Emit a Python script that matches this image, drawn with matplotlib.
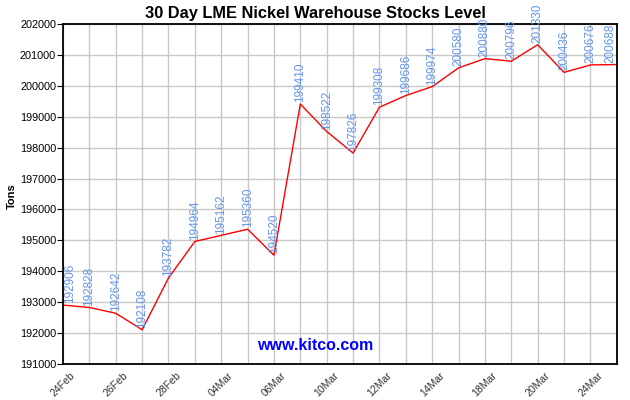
import matplotlib
matplotlib.use("Agg")
import matplotlib.pyplot as plt

plt.rcParams['font.family'] = ['Liberation Sans', 'DejaVu Sans']

dates = ['24Feb', '25Feb', '26Feb', '27Feb', '28Feb', '03Mar', '04Mar', '05Mar',
         '06Mar', '07Mar', '10Mar', '11Mar', '12Mar', '13Mar', '14Mar', '17Mar',
         '18Mar', '19Mar', '20Mar', '21Mar', '24Mar', '25Mar']
stocks = [192906, 192828, 192642, 192108, 193782, 194964, 195162, 195360,
          194520, 199410, 198522, 197826, 199308, 199686, 199974, 200580,
          200880, 200796, 201330, 200436, 200676, 200688]

fig = plt.figure(figsize=(6.3, 4.0), dpi=100)
ax = fig.add_axes([0.1, 0.09, 0.879, 0.85])

x = list(range(len(stocks)))
ax.plot(x, stocks, color='#ff0000', linewidth=1)

# value labels above each point
for i, v in enumerate(stocks):
    xi = i
    if i == 0:
        xi = i + 0.25
    elif i == len(stocks) - 1:
        xi = i - 0.25
    ax.text(xi, v + 60, str(v), rotation=90, ha='center', va='bottom',
            color='#6495ed', fontsize=8.5, clip_on=False)

ax.set_xlim(0, len(stocks) - 1)
ax.set_ylim(191000, 202000)
ax.set_yticks(range(191000, 202001, 1000))
ax.set_xticks(x)
ax.set_xticklabels([d if i % 2 == 0 else '' for i, d in enumerate(dates)],
                   rotation=45, ha='center', va='top', fontsize=7.5, color='#333333')
ax.tick_params(axis='x', length=0, pad=4.5)
ax.tick_params(axis='y', length=4, direction='out', labelsize=7.8, pad=1)
ax.grid(True, color='#c8c8c8', linewidth=1)
ax.set_axisbelow(True)
for s in ax.spines.values():
    s.set_linewidth(1.3)

fig.text(12 / 630, 0.51, 'Tons', rotation=90, ha='center', va='center',
         fontsize=8, fontweight='bold')
fig.text(0.5, 0.985, '30 Day LME Nickel Warehouse Stocks Level', ha='center',
         va='top', fontsize=11.8, fontweight='bold')
ax.text(0.455, 0.055, 'www.kitco.com', transform=ax.transAxes, ha='center',
        va='center', color='#0000ff', fontsize=11.5, fontweight='bold')

fig.savefig('out.png', dpi=100)
